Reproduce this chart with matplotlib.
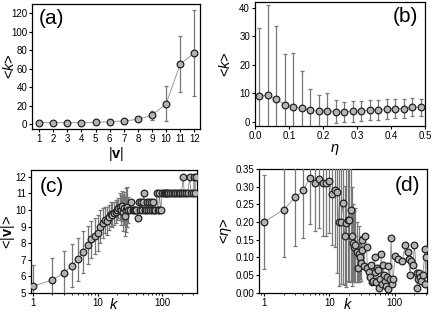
import numpy as np
import matplotlib
matplotlib.use("Agg")
import matplotlib.pyplot as plt

plt.rcParams['font.family'] = ['Liberation Sans', 'DejaVu Sans']
plt.rcParams['mathtext.fontset'] = 'custom'
plt.rcParams['mathtext.it'] = 'Liberation Sans:italic'
plt.rcParams['mathtext.bf'] = 'Liberation Sans:bold'
plt.rcParams['mathtext.rm'] = 'Liberation Sans'

# (a) <k> vs |v|
v_a = [1, 2, 3, 4, 5, 6, 7, 8, 9, 10, 11, 12]
k_a = [1.5, 1.5, 1.5, 1.5, 2.0, 2.5, 3.5, 5.0, 9.5, 22, 65, 77]
err_a = [0.8, 0.8, 0.8, 0.8, 1.0, 1.2, 1.5, 2.0, 5.0, 19, 30, 47]

# (b) <k> vs eta
eta_b = [0.0125, 0.0375, 0.0625, 0.0875, 0.1125, 0.1375, 0.1625, 0.1875, 0.2125, 0.2375,
         0.2625, 0.2875, 0.3125, 0.3375, 0.3625, 0.3875, 0.4125, 0.4375, 0.4625, 0.4875]
k_b = [9.0, 9.3, 7.8, 6.0, 5.3, 4.7, 4.0, 3.7, 3.9, 3.5,
       3.4, 3.7, 3.8, 4.1, 4.2, 4.5, 4.6, 4.6, 5.1, 5.0]
err_b = [23.7, 31.5, 25.6, 17.7, 18.8, 13.1, 7.6, 5.8, 6.0, 4.1,
         3.6, 3.7, 3.6, 3.6, 3.5, 3.5, 3.2, 3.2, 3.2, 3.1]

# (c) <|v|> vs k
k_c = [1, 2, 3, 4, 5, 6, 7, 8, 9, 10, 11, 12, 13, 14, 15, 16, 17, 18, 19, 20,
       21, 22, 23, 24, 25, 26, 27, 28, 29, 30,
       32, 33, 35, 36, 38, 40, 42, 44, 45, 47, 48, 50, 52, 54, 56, 58, 60, 63, 65, 68,
       70, 72, 75, 78, 82, 85, 88, 90, 95, 100, 105, 110, 115, 120, 125, 130, 140, 150,
       160, 170, 180, 190, 200, 210, 220, 235, 250, 265, 280, 300, 310, 320, 335]
v_c = [5.4, 5.78, 6.2, 6.64, 7.04, 7.47, 7.9, 8.23, 8.43, 8.6, 9.0, 9.2, 9.4, 9.35, 9.55,
       9.75, 9.7, 9.8, 9.9, 10.0, 10.1, 10.2, 10.0, 10.25, 9.85, 10.1, 9.65, 10.0, 10.2, 10.0,
       10.0, 10.5, 10.0, 10.0, 10.0, 10.0, 9.5, 10.5, 10.0, 10.5, 10.0, 10.5, 11.0, 10.0,
       10.0, 10.5, 10.0, 10.5, 10.0, 10.5, 10.0, 10.5, 10.0, 10.0, 11.0, 10.0, 10.0, 11.0,
       10.0, 11.0, 11.0, 11.0, 11.0, 11.0, 11.0, 11.0, 11.0, 11.0, 11.0, 11.0, 11.0, 11.0,
       11.0, 12.0, 11.0, 11.0, 11.0, 12.0, 11.0, 11.0, 12.0, 11.0, 12.0]
err_c = [1.3, 1.3, 1.35, 1.3, 1.3, 1.25, 1.15, 1.1, 1.07, 1.1, 1.0, 0.9, 0.8, 0.85, 0.75,
         0.7, 0.75, 0.7, 0.7, 0.6, 0.6, 0.8, 0.9, 0.9, 1.1, 1.0, 1.2, 1.3, 1.2, 0.8]

# (d) <eta> vs k
k_d = [1, 2, 3, 4, 5, 6, 7, 8, 9, 10, 11, 12, 13, 14, 15, 16, 17, 18, 19, 20,
       21, 22, 23, 24, 25, 26, 27, 28, 29, 30, 31, 32, 34, 35, 37, 38, 40, 42, 44, 45,
       47, 49, 50, 52, 54, 56, 58, 60, 62, 64, 66, 68, 70, 73, 75, 78, 80, 84, 88, 92,
       95, 100, 112, 130, 145, 160, 165, 170, 180, 190, 200, 215, 220, 225, 235, 245,
       255, 270, 290, 295, 305]
eta_d = [0.200, 0.235, 0.270, 0.290, 0.325, 0.310, 0.320, 0.310, 0.310, 0.315,
         0.280, 0.290, 0.285, 0.200, 0.200, 0.255, 0.162, 0.198, 0.205, 0.205,
         0.235, 0.160, 0.140, 0.130, 0.135, 0.115, 0.070, 0.110, 0.100, 0.085,
         0.150, 0.120, 0.075, 0.160, 0.130, 0.070, 0.060, 0.045, 0.080, 0.030,
         0.035, 0.100, 0.060, 0.030, 0.070, 0.065, 0.015, 0.040, 0.110, 0.025,
         0.080, 0.050, 0.035, 0.020, 0.045, 0.010, 0.075, 0.040, 0.155, 0.025,
         0.040, 0.105, 0.095, 0.090, 0.135, 0.115, 0.095, 0.050, 0.090, 0.080,
         0.135, 0.055, 0.015, 0.040, 0.055, 0.045, 0.035, 0.050, 0.125, 0.025, 0.100]
err_d = [0.133, 0.135, 0.137, 0.135, 0.130, 0.135, 0.137, 0.150, 0.150, 0.147,
         0.146, 0.160, 0.229, 0.180, 0.175, 0.230, 0.140, 0.180, 0.170, 0.175,
         0.200, 0.140, 0.110, 0.100, 0.105, 0.085, 0.040, 0.080, 0.060, 0.050]

mk = dict(marker='o', ms=4.8, mfc='#b4b4b4', mec='#222222', mew=0.9,
          color='#8a8a8a', lw=0.6, ecolor='#777777', elinewidth=0.9,
          capsize=1.5, capthick=0.8, zorder=3)

fig = plt.figure(figsize=(4.32, 3.15), dpi=100)
ax_a = fig.add_axes([0.074, 0.590, 0.389, 0.397])
ax_b = fig.add_axes([0.590, 0.600, 0.394, 0.394])
ax_c = fig.add_axes([0.072, 0.070, 0.384, 0.390])
ax_d = fig.add_axes([0.600, 0.070, 0.389, 0.394])

for ax in (ax_a, ax_b, ax_c, ax_d):
    ax.tick_params(direction='out', length=2.5, width=0.8, labelsize=7, pad=1)
    ax.tick_params(which='minor', direction='out', length=1.5, width=0.6)
    for s in ax.spines.values():
        s.set_linewidth(0.9)

lab = dict(fontsize=10.5)

# (a)
ax_a.errorbar(v_a, k_a, yerr=err_a, **mk)
ax_a.set_xlim(0.5, 12.4)
ax_a.set_ylim(-5.5, 130)
ax_a.set_xticks(v_a)
ax_a.set_yticks(range(0, 121, 20))
ax_a.set_xlabel(r'|$\mathbf{v}$|', **lab)
ax_a.set_ylabel(r'<$k$>', **lab)
ax_a.xaxis.set_label_coords(0.5, -0.125)
ax_a.yaxis.set_label_coords(-0.09, 0.5)
ax_a.text(0.04, 0.96, '(a)', transform=ax_a.transAxes, fontsize=15, va='top', ha='left')

# (b)
ax_b.errorbar(eta_b, k_b, yerr=err_b, **mk)
ax_b.set_xlim(0, 0.5)
ax_b.set_ylim(-1.5, 42)
ax_b.set_xticks([0.0, 0.1, 0.2, 0.3, 0.4, 0.5])
ax_b.set_xticklabels(['0.0', '0.1', '0.2', '0.3', '0.4', '0.5'])
ax_b.set_yticks([0, 10, 20, 30, 40])
ax_b.set_xlabel(r'$\eta$', **lab)
ax_b.set_ylabel(r'<$k$>', **lab)
ax_b.xaxis.set_label_coords(0.47, -0.13)
ax_b.yaxis.set_label_coords(-0.13, 0.5)
ax_b.text(0.96, 0.96, '(b)', transform=ax_b.transAxes, fontsize=15, va='top', ha='right')

# (c)
yerr_c = err_c + [0] * (len(k_c) - len(err_c))
ax_c.errorbar(k_c, v_c, yerr=yerr_c, **mk)
ax_c.set_xscale('log')
ax_c.set_xlim(0.94, 345)
ax_c.set_ylim(5, 12.4)
ax_c.set_xticks([1, 10, 100])
ax_c.set_xticklabels(['1', '10', '100'])
ax_c.set_yticks(range(5, 13))
ax_c.set_xlabel(r'$k$', **lab)
ax_c.set_ylabel(r'<|$\mathbf{v}$|>', **lab)
ax_c.xaxis.set_label_coords(0.5, -0.035)
ax_c.yaxis.set_label_coords(-0.085, 0.5)
ax_c.text(0.05, 0.94, '(c)', transform=ax_c.transAxes, fontsize=15, va='top', ha='left')

# (d)
yerr_d = err_d + [0] * (len(k_d) - len(err_d))
ax_d.errorbar(k_d, eta_d, yerr=yerr_d, **mk)
ax_d.set_xscale('log')
ax_d.set_xlim(0.84, 314)
ax_d.set_ylim(0, 0.35)
ax_d.set_xticks([1, 10, 100])
ax_d.set_xticklabels(['1', '10', '100'])
ax_d.set_yticks(np.arange(0, 0.351, 0.05))
ax_d.set_yticklabels(['%.2f' % t for t in np.arange(0, 0.351, 0.05)])
ax_d.set_xlabel(r'$k$', **lab)
ax_d.set_ylabel(r'<$\eta$>', **lab)
ax_d.xaxis.set_label_coords(0.53, -0.035)
ax_d.yaxis.set_label_coords(-0.15, 0.5)
ax_d.text(0.96, 0.94, '(d)', transform=ax_d.transAxes, fontsize=15, va='top', ha='right')

fig.savefig('out.png', dpi=100)
